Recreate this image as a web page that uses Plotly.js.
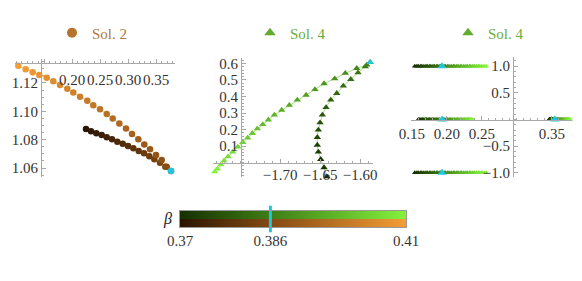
<!DOCTYPE html>
<html>
<head>
<meta charset="utf-8">
<script src="https://cdn.plot.ly/plotly-3.0.1.min.js"></script>
<style>html,body{margin:0;padding:0;background:#fff;}#chart{width:582px;height:281px;}</style>
</head>
<body>
<div id="chart"></div>
<script>
// ---- data ----
const betaValues = [0.370,0.371,0.372,0.373,0.374,0.375,0.376,0.377,0.378,0.379,0.380,0.381,0.382,0.383,0.384,0.385,0.386,0.387,0.388,0.389,0.390,0.391,0.392,0.393,0.394,0.395,0.396,0.397,0.398,0.399,0.400,0.401,0.402,0.403,0.404,0.405,0.406,0.407,0.408,0.409,0.410];
const betaMin = 0.37, betaFold = 0.386, betaMax = 0.41;
const betaTickLabels = ['0.37','0.386','0.41'];

// Sol. 2 (panel 1), ordered by beta
const sol2X = [0.2250,0.2339,0.2434,0.2530,0.2620,0.2714,0.2809,0.2905,0.3000,0.3095,0.3191,0.3286,0.3380,0.3470,0.3571,0.3666,
  0.3768,
  0.3691,0.3602,0.3500,0.3393,0.3291,0.3184,0.3071,0.2964,0.2845,0.2727,0.2620,0.2500,0.2380,0.2273,0.2143,0.2023,0.1916,0.1786,0.1666,0.1548,0.1416,0.1298,0.1173,0.1041];
const sol2Y = [1.0875,1.0859,1.0845,1.0833,1.0817,1.0803,1.0786,1.0772,1.0756,1.0739,1.0720,1.0704,1.0683,1.0662,1.0638,1.0609,
  1.0579,
  1.0609,1.0657,1.0692,1.0732,1.0767,1.0803,1.0840,1.0879,1.0914,1.0949,1.0981,1.1014,1.1043,1.1075,1.1103,1.1132,1.1160,1.1186,1.1212,1.1237,1.1256,1.1276,1.1297,1.1322];

// Sol. 4 (panel 2), ordered by beta
const sol4X = [-1.6416,-1.6450,-1.6491,-1.6521,-1.6534,-1.6534,-1.6521,-1.6500,-1.6471,-1.6425,-1.6366,-1.6291,-1.6209,-1.6116,-1.6025,-1.5934,
  -1.5875,
  -1.5916,-1.6041,-1.6184,-1.6317,-1.6450,-1.6563,-1.6675,-1.6784,-1.6884,-1.6979,-1.7071,-1.7146,-1.7216,-1.7284,-1.7346,-1.7404,-1.7466,-1.7529,-1.7591,-1.7650,-1.7700,-1.7741,-1.7784,-1.7816];
const sol4Y = [-0.086,-0.031,0.019,0.064,0.106,0.153,0.197,0.241,0.288,0.334,0.379,0.419,0.464,0.504,0.544,0.581,
  0.607,
  0.591,0.571,0.541,0.508,0.478,0.443,0.409,0.379,0.347,0.318,0.288,0.259,0.231,0.205,0.177,0.150,0.122,0.094,0.064,0.035,0.011,-0.013,-0.039,-0.056];

// Sol. 4 (panel 3): three rows at levels 1, 0, -1 and a second group at level 0
const spectrumRowX = [0.154,0.157,0.159,0.162,0.164,0.167,0.170,0.172,0.175,0.177,0.180,0.182,0.185,0.187,0.190,0.191,0.193,0.196,0.198,0.201,0.203,0.206,0.209,0.211,0.214,0.216,0.219,0.221,0.224,0.227,0.229,0.232,0.234,0.237,0.239,0.242,0.245,0.247,0.250,0.253,0.256];
const spectrumMidX = [0.159,0.161,0.163,0.165,0.167,0.169,0.171,0.173,0.175,0.177,0.179,0.181,0.183,0.185,0.187,0.189,0.193,0.195,0.197,0.199,0.201,0.203,0.205,0.207,0.209,0.211,0.213,0.215,0.217,0.219,0.221,0.223,0.225,0.227,0.229,0.230,0.231,0.232,0.234,0.235,0.237];
const spectrumRightX = [0.346,0.3465,0.347,0.3475,0.348,0.3485,0.349,0.3495,0.350,0.3505,0.351,0.3515,0.352,0.3525,0.353,0.3535,0.354,0.355,0.356,0.357,0.358,0.359,0.360,0.361,0.362,0.363,0.364,0.365,0.366,0.367,0.368,0.369,0.370,0.371,0.372,0.3725,0.373,0.3735,0.374,0.375,0.376];
const spectrumTopY = [1,1,1,1,1,1,1,1,1,1,1,1,1,1,1,1,1,1,1,1,1,1,1,1,1,1,1,1,1,1,1,1,1,1,1,1,1,1,1,1,1];
const spectrumZeroY = [0,0,0,0,0,0,0,0,0,0,0,0,0,0,0,0,0,0,0,0,0,0,0,0,0,0,0,0,0,0,0,0,0,0,0,0,0,0,0,0,0];
const spectrumBottomY = [-1,-1,-1,-1,-1,-1,-1,-1,-1,-1,-1,-1,-1,-1,-1,-1,-1,-1,-1,-1,-1,-1,-1,-1,-1,-1,-1,-1,-1,-1,-1,-1,-1,-1,-1,-1,-1,-1,-1,-1,-1];

const legendNames = ['Sol. 2', 'Sol. 4', 'Sol. 4'];

// ---- styles ----
const W = 582, H = 281;
const px = v => v / W, py = v => 1 - v / H;
const brownScale = [[0,'#2a1503'],[0.4,'#844a12'],[1,'#f59d35']];
const greenScale = [[0,'#163000'],[0.4,'#3f7d16'],[1,'#84f23e']];
const cyan = '#22c5de';
const axCol = '#a8a8a8';
const tickFont = {family:'Liberation Serif, serif', size:15, color:'#333'};
const foldIdx = betaValues.indexOf(betaFold);

function baseAxis(extra){
  return Object.assign({
    showgrid:false, zeroline:false, showline:true, linecolor:axCol, linewidth:1,
    ticks:'inside', ticklen:4, tickcolor:axCol, tickwidth:1, tickangle:0,
    tickfont:tickFont, anchor:'free', fixedrange:true
  }, extra);
}
function greenMarkers(size){
  return {symbol:'triangle-up', size:size, color:betaValues, colorscale:greenScale, cmin:betaMin, cmax:betaMax};
}

const traces = [
  // panel 1
  {x:sol2X, y:sol2Y, xaxis:'x', yaxis:'y', mode:'lines+markers', showlegend:false, cliponaxis:false,
   line:{color:'#f3c48e', width:1},
   marker:{symbol:'circle', size:6.5, color:betaValues, colorscale:brownScale, cmin:betaMin, cmax:betaMax}},
  {x:[sol2X[foldIdx]], y:[sol2Y[foldIdx]], xaxis:'x', yaxis:'y', mode:'markers', showlegend:false, cliponaxis:false,
   marker:{symbol:'circle', size:6.5, color:cyan}},
  // panel 2
  {x:sol4X, y:sol4Y, xaxis:'x2', yaxis:'y2', mode:'lines+markers', showlegend:false, cliponaxis:false,
   line:{color:'#a9de88', width:1}, marker:greenMarkers(6.5)},
  {x:[sol4X[foldIdx]], y:[sol4Y[foldIdx]], xaxis:'x2', yaxis:'y2', mode:'markers', showlegend:false, cliponaxis:false,
   marker:{symbol:'triangle-up', size:6.5, color:cyan}},
  // panel 3
  {x:spectrumRowX, y:spectrumTopY, xaxis:'x3', yaxis:'y3', mode:'markers', showlegend:false, cliponaxis:false, marker:greenMarkers(5)},
  {x:spectrumMidX, y:spectrumZeroY, xaxis:'x3', yaxis:'y3', mode:'markers', showlegend:false, cliponaxis:false, marker:greenMarkers(5)},
  {x:spectrumRowX, y:spectrumBottomY, xaxis:'x3', yaxis:'y3', mode:'markers', showlegend:false, cliponaxis:false, marker:greenMarkers(5)},
  {x:spectrumRightX, y:spectrumZeroY, xaxis:'x3', yaxis:'y3', mode:'markers', showlegend:false, cliponaxis:false, marker:greenMarkers(5)},
  {x:[spectrumRowX[foldIdx], spectrumMidX[foldIdx], spectrumRowX[foldIdx], spectrumRightX[foldIdx]],
   y:[spectrumTopY[foldIdx], spectrumZeroY[foldIdx], spectrumBottomY[foldIdx], spectrumZeroY[foldIdx]],
   xaxis:'x3', yaxis:'y3', mode:'markers', showlegend:false, cliponaxis:false,
   marker:{symbol:'triangle-up', size:8, color:cyan}},
  // beta bar
  {type:'heatmap', x:betaValues, z:[betaValues], y0:1, dy:1, xaxis:'x4', yaxis:'y4', zsmooth:'best',
   colorscale:greenScale, zmin:betaMin, zmax:betaMax, showscale:false, hoverinfo:'skip'},
  {type:'heatmap', x:betaValues, z:[betaValues], y0:0, dy:1, xaxis:'x4', yaxis:'y4', zsmooth:'best',
   colorscale:brownScale, zmin:betaMin, zmax:betaMax, showscale:false, hoverinfo:'skip'},
  {x:[betaFold], y:[0.5], xaxis:'x4', yaxis:'y4', mode:'markers', showlegend:false, cliponaxis:false,
   marker:{symbol:'line-ns', size:19, line:{color:cyan, width:3}}},
  // legend entries
  {x:[null], y:[null], xaxis:'x', yaxis:'y', mode:'markers', name:legendNames[0], legend:'legend',
   marker:{symbol:'circle', size:10, color:'#b5732c'}},
  {x:[null], y:[null], xaxis:'x2', yaxis:'y2', mode:'markers', name:legendNames[1], legend:'legend2',
   marker:{symbol:'triangle-up', size:10, color:'#62ad2e'}},
  {x:[null], y:[null], xaxis:'x3', yaxis:'y3', mode:'markers', name:legendNames[2], legend:'legend3',
   marker:{symbol:'triangle-up', size:10, color:'#62ad2e'}}
];

const legendBase = {yanchor:'middle', xanchor:'left', bgcolor:'rgba(0,0,0,0)', borderwidth:0};
const layout = {
  width:W, height:H,
  margin:{l:0, r:0, t:0, b:0, autoexpand:false},
  paper_bgcolor:'#fff', plot_bgcolor:'rgba(0,0,0,0)',
  font:{family:'Liberation Serif, serif', size:15, color:'#333'},
  showlegend:true,
  legend: Object.assign({x:px(52), y:py(33), font:{family:'Liberation Serif, serif', size:15, color:'#b07a40'}}, legendBase),
  legend2: Object.assign({x:px(250), y:py(33), font:{family:'Liberation Serif, serif', size:15, color:'#6aae3a'}}, legendBase),
  legend3: Object.assign({x:px(448), y:py(33), font:{family:'Liberation Serif, serif', size:15, color:'#6aae3a'}}, legendBase),
  // panel 1
  xaxis: baseAxis({domain:[px(15), px(175)], range:[0.0982, 0.3839], position:py(63),
    tickmode:'array', tickvals:[0.15,0.20,0.25,0.30,0.35], ticktext:['','0.20','0.25','0.30','0.35'],
    minor:{ticks:'inside', ticklen:2, tickcolor:axCol, dtick:0.01, tick0:0}, ticklabelstandoff:3}),
  yaxis: baseAxis({domain:[py(177), py(59)], range:[1.0537, 1.1369], position:px(41),
    tickmode:'array', tickvals:[1.06,1.08,1.10,1.12], ticktext:['1.06','1.08','1.10','1.12'],
    minor:{ticks:'inside', ticklen:2, tickcolor:axCol, dtick:0.005, tick0:0}}),
  // panel 2
  xaxis2: baseAxis({domain:[px(213), px(373)], range:[-1.7838, -1.5838], position:py(162.5),
    tickmode:'array', tickvals:[-1.70,-1.65,-1.60], ticktext:['\u22121.70','\u22121.65','\u22121.60'],
    minor:{ticks:'inside', ticklen:2, tickcolor:axCol, dtick:0.01, tick0:0}, ticklabelstandoff:-2}),
  yaxis2: baseAxis({domain:[py(177), py(58)], range:[-0.0879, 0.6333], position:px(241),
    tickmode:'array', tickvals:[0.1,0.2,0.3,0.4,0.5,0.6], ticktext:['0.1','0.2','0.3','0.4','0.5','0.6'],
    minor:{ticks:'inside', ticklen:2, tickcolor:axCol, dtick:0.02, tick0:0}}),
  // panel 3
  xaxis3: baseAxis({domain:[px(411), px(572)], range:[0.1486, 0.3786], position:py(119.5),
    tickmode:'array', tickvals:[0.15,0.20,0.25,0.35], ticktext:['0.15','0.20','0.25','0.35'],
    minor:{ticks:'inside', ticklen:2, tickcolor:axCol, dtick:0.01, tick0:0}, ticklabelstandoff:0}),
  yaxis3: baseAxis({domain:[py(177), py(57)], range:[-1.0788, 1.1726], position:px(513),
    tickmode:'array', tickvals:[-1,-0.5,0.5,1], ticktext:['\u22121.0','\u22120.5','0.5','1.0'],
    minor:{ticks:'inside', ticklen:2, tickcolor:axCol, dtick:0.1, tick0:0}}),
  // beta bar
  xaxis4: {domain:[px(180), px(406)], range:[betaMin, betaMax], anchor:'y4', showgrid:false, zeroline:false,
    showline:true, mirror:true, linecolor:'#999', linewidth:1, ticks:'', tickmode:'array', tickangle:0,
    tickvals:[betaMin, betaFold, betaMax], ticktext:betaTickLabels, tickfont:tickFont, fixedrange:true},
  yaxis4: {domain:[py(227), py(211)], range:[-0.5, 1.5], anchor:'x4', showgrid:false, zeroline:false,
    showline:true, mirror:true, linecolor:'#999', linewidth:1, ticks:'', showticklabels:false, fixedrange:true},
  annotations:[
    {text:'<i>β</i>', x:px(168), y:py(219), xref:'paper', yref:'paper', xanchor:'center', yanchor:'middle', showarrow:false,
     font:{family:'Liberation Serif, serif', size:16, color:'#222'}}
  ]
};

Plotly.newPlot('chart', traces, layout, {displayModeBar:false, staticPlot:true});
</script>
</body>
</html>
